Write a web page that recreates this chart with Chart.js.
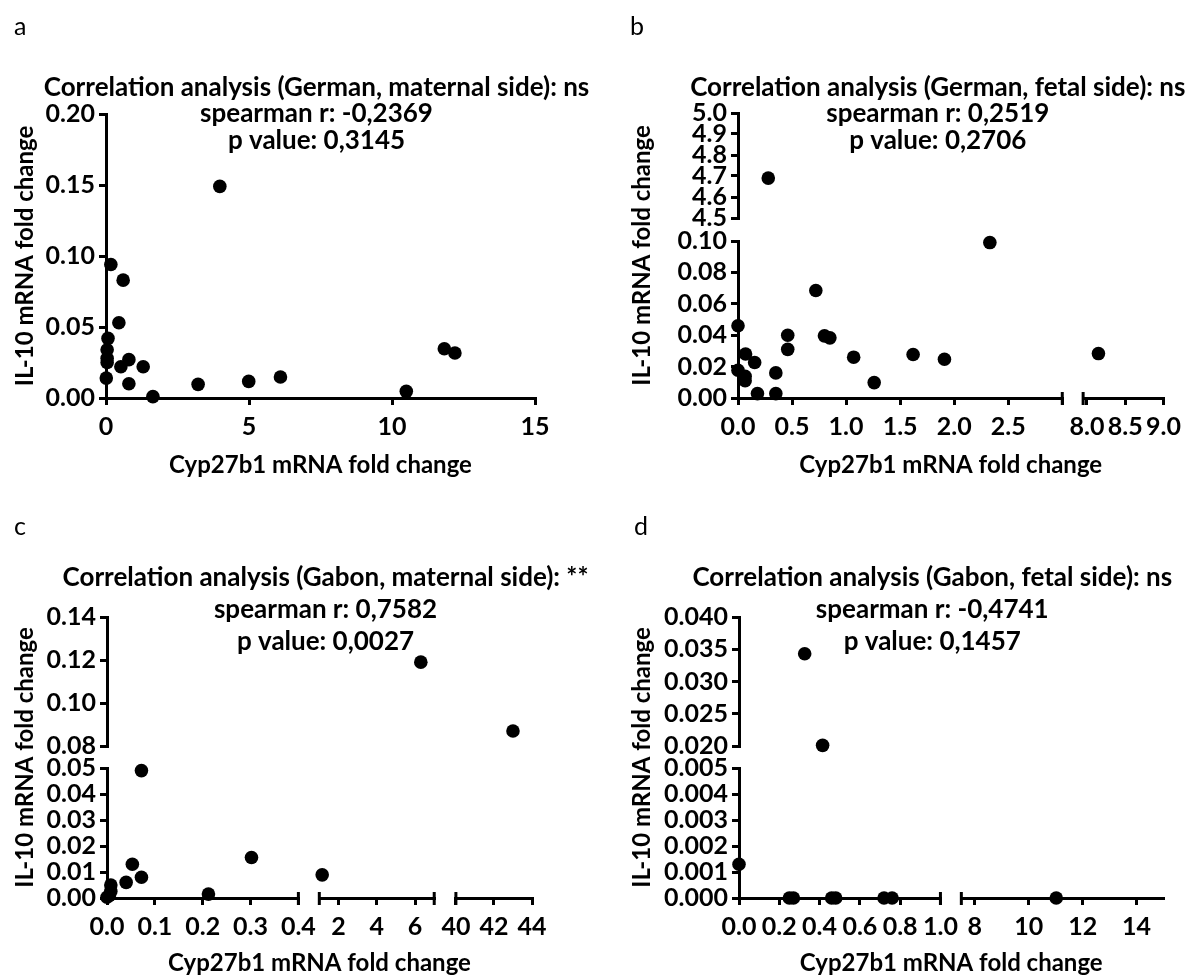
<!DOCTYPE html>
<html lang="en">
<head>
<meta charset="UTF-8">
<title>Cyp27b1 vs IL-10 correlation</title>
<script src="https://cdn.jsdelivr.net/npm/chart.js"></script>
<style>
  body { margin: 0; background: #fff; }
  #grid { display: grid; grid-template-columns: 594px 594px; grid-template-rows: 488px 488px; }
  canvas { display: block; }
</style>
</head>
<body>
<div id="grid">
  <canvas id="chartA" width="594" height="488"></canvas>
  <canvas id="chartB" width="594" height="488"></canvas>
  <canvas id="chartC" width="594" height="488"></canvas>
  <canvas id="chartD" width="594" height="488"></canvas>
</div>
<script>
// a: German, maternal side
const aCyp  = [0.17, 0.60, 0.45, 0.07, 0.04, 0.04, 0.04, 0.01, 0.52, 0.80, 0.80, 1.30, 1.64, 3.22, 3.98, 4.99, 6.10, 10.50, 11.83, 12.20];
const aIL10 = [0.094, 0.083, 0.053, 0.042, 0.034, 0.028, 0.025, 0.014, 0.022, 0.027, 0.010, 0.022, 0.001, 0.0096, 0.149, 0.0117, 0.0148, 0.0047, 0.0347, 0.0317];
// b: German, fetal side
const bCyp  = [0.0, 0.0, 0.066, 0.066, 0.07, 0.154, 0.18, 0.35, 0.35, 0.46, 0.46, 0.72, 0.80, 0.85, 1.07, 1.26, 1.62, 1.91, 2.33, 8.15, 0.28];
const bIL10 = [0.046, 0.0177, 0.0138, 0.011, 0.028, 0.0226, 0.0028, 0.016, 0.0028, 0.040, 0.031, 0.0685, 0.0396, 0.0383, 0.026, 0.0098, 0.0277, 0.0247, 0.099, 0.0283, 4.69];
// c: Gabon, maternal side
const cCyp  = [0.072, 0.053, 0.072, 0.04, 0.008, 0.008, 0.0, 0.005, 0.212, 0.302, 1.15, 6.3, 43.0];
const cIL10 = [0.049, 0.013, 0.008, 0.006, 0.005, 0.0026, 0.0003, 0.001, 0.0015, 0.0156, 0.0089, 0.119, 0.087];
// d: Gabon, fetal side
const dCyp  = [0.0, 0.25, 0.27, 0.46, 0.48, 0.72, 0.76, 11.02, 0.415, 0.326];
const dIL10 = [0.0013, 0, 0, 0, 0, 0, 0, 0, 0.0201, 0.0343];

// axis segments (broken axes), ticks and labelled ticks
const aXSegs = [{ min: 0, max: 15, marks: [0, 5, 10, 15], labels: [0, 5, 10, 15], dec: 0 }];
const aYSegs = [{ min: 0, max: 0.20, marks: [0, 0.05, 0.10, 0.15, 0.20], labels: [0, 0.05, 0.10, 0.15, 0.20], dec: 2 }];

const bXSegs = [
  { min: 0, max: 3.0, marks: [0, 0.5, 1.0, 1.5, 2.0, 2.5, 3.0], labels: [0, 0.5, 1.0, 1.5, 2.0, 2.5], dec: 1 },
  { min: 7.95, max: 9.0, marks: [8.0, 8.5, 9.0], labels: [8.0, 8.5, 9.0], dec: 1 }
];
const bYSegs = [
  { min: 0, max: 0.10, marks: [0, 0.02, 0.04, 0.06, 0.08, 0.10], labels: [0, 0.02, 0.04, 0.06, 0.08, 0.10], dec: 2 },
  { min: 4.5, max: 5.0, marks: [4.5, 4.6, 4.7, 4.8, 4.9, 5.0], labels: [4.5, 4.6, 4.7, 4.8, 4.9, 5.0], dec: 1 }
];

const cXSegs = [
  { min: 0, max: 0.4, marks: [0, 0.1, 0.2, 0.3, 0.4], labels: [0, 0.1, 0.2, 0.3, 0.4], dec: 1 },
  { min: 1, max: 7, marks: [2, 4, 6], labels: [2, 4, 6], dec: 0 },
  { min: 40, max: 44, marks: [40, 42, 44], labels: [40, 42, 44], dec: 0 }
];
const cYSegs = [
  { min: 0, max: 0.05, marks: [0, 0.01, 0.02, 0.03, 0.04, 0.05], labels: [0, 0.01, 0.02, 0.03, 0.04, 0.05], dec: 2 },
  { min: 0.08, max: 0.14, marks: [0.08, 0.10, 0.12, 0.14], labels: [0.08, 0.10, 0.12, 0.14], dec: 2 }
];

const dXSegs = [
  { min: 0, max: 1.0, marks: [0, 0.2, 0.4, 0.6, 0.8, 1.0], labels: [0, 0.2, 0.4, 0.6, 0.8, 1.0], dec: 1 },
  { min: 7.5, max: 15, marks: [8, 10, 12, 14], labels: [8, 10, 12, 14], dec: 0 }
];
const dYSegs = [
  { min: 0, max: 0.005, marks: [0, 0.001, 0.002, 0.003, 0.004, 0.005], labels: [0, 0.001, 0.002, 0.003, 0.004, 0.005], dec: 3 },
  { min: 0.020, max: 0.040, marks: [0.020, 0.025, 0.030, 0.035, 0.040], labels: [0.020, 0.025, 0.030, 0.035, 0.040], dec: 3 }
];

const FONT = 'Lato, "DejaVu Sans", sans-serif';
const X_TITLE = 'Cyp27b1 mRNA fold change';
const Y_TITLE = 'IL-10 mRNA fold change';

const panelText = {
  id: 'panelText',
  afterDraw(chart, args, o) {
    const { ctx, chartArea: ca } = chart;
    ctx.save();
    ctx.fillStyle = '#000';
    ctx.textBaseline = 'middle';
    ctx.textAlign = 'left';
    ctx.font = '400 25px ' + FONT;
    ctx.fillText(o.letter, o.letterX, o.letterY);
    ctx.textAlign = 'center';
    ctx.font = '700 26px ' + FONT;
    const cx = (ca.left + ca.right) / 2 + o.textShift;
    o.lines.forEach((t, i) => ctx.fillText(t, cx, o.textTop[i]));
    ctx.font = '700 24px ' + FONT;
    ctx.fillText(X_TITLE, (ca.left + ca.right) / 2, o.xTitleY);
    ctx.translate(o.yTitleX, (ca.top + ca.bottom) / 2);
    ctx.rotate(-Math.PI / 2);
    ctx.fillText(Y_TITLE, 0, 0);
    ctx.restore();
  }
};

// end caps where an x axis is broken
const breakCaps = {
  id: 'breakCaps',
  afterDraw(chart) {
    const { ctx } = chart;
    const xs = Object.values(chart.scales).filter(s => s.isHorizontal() && s.options.border.display);
    if (xs.length < 2) return;
    ctx.save();
    ctx.strokeStyle = '#000';
    ctx.lineWidth = 3;
    xs.forEach((s, i) => {
      const y = s.top;
      const ends = [];
      if (i > 0) ends.push(s.left);
      if (i < xs.length - 1) ends.push(s.right);
      ends.forEach(x => {
        ctx.beginPath();
        ctx.moveTo(x, y - 6);
        ctx.lineTo(x, y + 7);
        ctx.stroke();
      });
    });
    ctx.restore();
  }
};

function near(list, v) {
  return list.some(l => Math.abs(l - v) < 1e-9);
}

function axisFor(seg, pos, weight, fit) {
  return {
    type: 'linear',
    position: pos,
    stack: pos,
    stackWeight: weight,
    min: seg.min,
    max: seg.max,
    afterBuildTicks: s => { s.ticks = seg.marks.map(v => ({ value: v })); },
    afterFit: fit,
    ticks: {
      autoSkip: false,
      maxRotation: 0,
      color: '#000',
      padding: pos === 'bottom' ? 7 : 4,
      font: { family: FONT, size: 25, weight: 'bold' },
      callback: v => near(seg.labels, v) ? v.toFixed(seg.dec) : ''
    },
    grid: { drawOnChartArea: false, drawTicks: true, tickLength: 7, color: '#000', lineWidth: 3 },
    border: { display: true, color: '#000', width: 3 }
  };
}

function gapAxis(pos, weight, fit) {
  return {
    type: 'linear', position: pos, stack: pos, stackWeight: weight,
    afterFit: fit,
    ticks: { display: false },
    grid: { display: false },
    border: { display: false }
  };
}

function segIndex(segs, v) {
  return segs.findIndex(s => v >= s.min && v <= s.max);
}

function drawPanel(id, p) {
  const area = p.area;
  const xFit = s => { s.height = 40; };
  const yFit = s => { s.width = area.left; };
  const scales = {};
  p.xSegs.forEach((seg, i) => {
    scales['x' + i] = axisFor(seg, 'bottom', p.xWeights[i], xFit);
    if (i < p.xSegs.length - 1) scales['xg' + i] = gapAxis('bottom', p.xGaps[i], xFit);
  });
  p.ySegs.forEach((seg, i) => {
    scales['y' + i] = axisFor(seg, 'left', p.yWeights[i], yFit);
    if (i < p.ySegs.length - 1) scales['yg' + i] = gapAxis('left', p.yGaps[i], yFit);
  });

  const groups = {};
  p.x.forEach((xv, k) => {
    const xi = segIndex(p.xSegs, xv);
    const yi = segIndex(p.ySegs, p.y[k]);
    const key = xi + '_' + yi;
    if (!groups[key]) groups[key] = { xAxisID: 'x' + xi, yAxisID: 'y' + yi, data: [] };
    groups[key].data.push({ x: xv, y: p.y[k] });
  });
  const datasets = Object.values(groups).map(g => Object.assign(g, {
    type: 'scatter',
    backgroundColor: '#000',
    borderWidth: 0,
    pointRadius: 6.8,
    clip: false
  }));

  new Chart(document.getElementById(id), {
    type: 'scatter',
    data: { datasets },
    options: {
      responsive: false,
      animation: false,
      layout: { padding: { left: 0, top: area.top, right: 594 - area.right, bottom: 488 - area.bottom - 40 } },
      scales,
      plugins: {
        legend: { display: false },
        tooltip: { enabled: false },
        panelText: p.text
      }
    },
    plugins: [panelText, breakCaps]
  });
}

drawPanel('chartA', {
  x: aCyp, y: aIL10, xSegs: aXSegs, ySegs: aYSegs,
  xWeights: [1], xGaps: [], yWeights: [1], yGaps: [],
  area: { left: 106, top: 114, right: 535, bottom: 398 },
  text: {
    letter: 'a', letterX: 14, letterY: 27, yTitleX: 25, xTitleY: 465, textTop: [88, 114, 141], textShift: -4,
    lines: ['Correlation analysis (German, maternal side): ns', 'spearman r: -0,2369', 'p value: 0,3145']
  }
});

drawPanel('chartB', {
  x: bCyp, y: bIL10, xSegs: bXSegs, ySegs: bYSegs,
  xWeights: [855, 212], xGaps: [55], yWeights: [157, 105], yGaps: [23],
  area: { left: 144, top: 113, right: 571, bottom: 398 },
  text: {
    letter: 'b', letterX: 36, letterY: 27, yTitleX: 48, xTitleY: 465, textTop: [88, 114, 141], textShift: -13,
    lines: ['Correlation analysis (German, fetal side): ns', 'spearman r: 0,2519', 'p value: 0,2706']
  }
});

drawPanel('chartC', {
  x: cCyp, y: cIL10, xSegs: cXSegs, ySegs: cYSegs,
  xWeights: [503, 302, 200], xGaps: [55, 57], yWeights: [130, 129], yGaps: [22],
  area: { left: 107, top: 129, right: 532, bottom: 410 },
  text: {
    letter: 'c', letterX: 14, letterY: 39, yTitleX: 25, xTitleY: 475, textTop: [90, 122, 154], textShift: 6,
    lines: ['Correlation analysis (Gabon, maternal side): **', 'spearman r: 0,7582', 'p value: 0,0027']
  }
});

drawPanel('chartD', {
  x: dCyp, y: dIL10, xSegs: dXSegs, ySegs: dYSegs,
  xWeights: [530, 532], xGaps: [55], yWeights: [130, 129], yGaps: [22],
  area: { left: 145, top: 129, right: 570, bottom: 410 },
  text: {
    letter: 'd', letterX: 40, letterY: 39, yTitleX: 48, xTitleY: 475, textTop: [90, 122, 154], textShift: -19,
    lines: ['Correlation analysis (Gabon, fetal side): ns', 'spearman r: -0,4741', 'p value: 0,1457']
  }
});
</script>
</body>
</html>
